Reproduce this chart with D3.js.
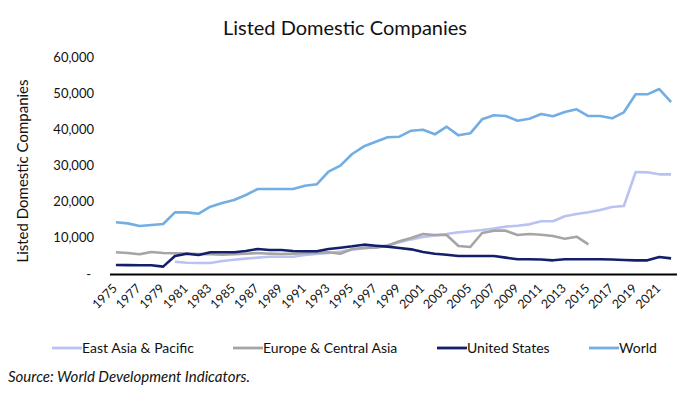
<!DOCTYPE html>
<html>
<head>
<meta charset="utf-8">
<script src="https://cdn.jsdelivr.net/npm/d3@7"></script>
<style>
  body { margin: 0; background: #fff; }
  svg { font-family: Lato, "Open Sans", sans-serif; }
</style>
</head>
<body>
<div id="chart"></div>
<script>
// Years on the x axis
const years = d3.range(1975, 2023);

// Series values (null = no data)
const eastAsia = [null, null, null, null, null, 3400, 3130, 3040, 3040, 3590,
  3960, 4240, 4520, 4790, 4790, 4790, 5250, 5530, 5810, 6180,
  6730, 7100, 7460, 7920, 8750, 9580, 10230, 10690, 11060, 11520,
  11800, 12160, 12600, 13090, 13360, 13730, 14570, 14570, 15950, 16590,
  17050, 17690, 18520, 18800, 28200, 28110, 27560, 27560];

const europe = [6000, 5810, 5440, 6080, 5810, 5720, 5620, 5530, 5440, 5340,
  5440, 5620, 5810, 5620, 5530, 5620, 5760, 5900, 6000, 5620,
  6910, 7190, 7280, 7830, 9030, 9950, 11060, 10780, 10780, 7740,
  7460, 11340, 11980, 11980, 10780, 11060, 10870, 10500, 9770, 10320,
  8200, null, null, null, null, null, null, null];

const unitedStates = [2490, 2450, 2420, 2400, 2030, 4980, 5620, 5250, 6000, 6000,
  6000, 6360, 6910, 6640, 6640, 6360, 6270, 6270, 6910, 7280,
  7650, 8110, 7830, 7560, 7190, 6820, 6080, 5620, 5340, 4980,
  4980, 4980, 4980, 4520, 4060, 4060, 4000, 3780, 4060, 4060,
  4060, 4060, 4000, 3880, 3780, 3780, 4700, 4330];

const world = [14300, 14000, 13270, 13550, 13820, 17050, 17050, 16680, 18610, 19630,
  20460, 21840, 23500, 23500, 23500, 23500, 24400, 24800, 28290, 29950,
  33180, 35300, 36580, 37790, 37970, 39620, 39900, 38620, 40730, 38340,
  38900, 42770, 43900, 43700, 42390, 42940, 44240, 43600, 44790, 45530,
  43680, 43680, 43040, 44700, 49680, 49680, 51150, 47550];

const seriesNames = ["East Asia & Pacific", "Europe & Central Asia", "United States", "World"];
const seriesColors = ["#b9c3f3", "#a5a5a5", "#131f6b", "#72aee3"];
const seriesValues = [eastAsia, europe, unitedStates, world];

const yTicks = [0, 10000, 20000, 30000, 40000, 50000, 60000];
const xTickYears = years.filter(y => (y - 1975) % 2 === 0 && y <= 2021);

const width = 690, height = 400;
const svg = d3.select("#chart").append("svg")
  .attr("width", width)
  .attr("height", height);

const x = d3.scaleBand()
  .domain(years)
  .range([110, 677]);

const y = d3.scaleLinear()
  .domain([0, 60000])
  .range([274, 57]);

const cx = d => x(d) + x.bandwidth() / 2;

// Title
svg.append("text")
  .attr("x", 345)
  .attr("y", 35)
  .attr("text-anchor", "middle")
  .style("font-size", "20px")
  .style("fill", "#111")
  .text("Listed Domestic Companies");

// Y axis labels (no line)
svg.append("g")
  .selectAll("text")
  .data(yTicks)
  .enter().append("text")
  .attr("x", d => d === 0 ? 91 : 94)
  .attr("y", d => y(d))
  .attr("dy", "0.35em")
  .attr("text-anchor", "end")
  .style("font-size", "13px")
  .style("fill", "#111")
  .text(d => d === 0 ? "-" : d3.format(",")(d));

// Y axis title
svg.append("text")
  .attr("transform", "translate(28,171) rotate(-90)")
  .attr("text-anchor", "middle")
  .style("font-size", "15px")
  .style("fill", "#111")
  .text("Listed Domestic Companies");

// Lines
const line = d3.line()
  .defined(d => d[1] !== null)
  .x(d => cx(d[0]))
  .y(d => y(d[1]));

svg.append("g")
  .selectAll("path")
  .data(seriesValues)
  .enter().append("path")
  .attr("fill", "none")
  .attr("stroke", (d, i) => seriesColors[i])
  .attr("stroke-width", 2.6)
  .attr("stroke-linejoin", "round")
  .attr("d", d => line(years.map((yr, i) => [yr, d[i]])));

// X axis line
svg.append("line")
  .attr("x1", 110)
  .attr("x2", 677)
  .attr("y1", y(0) + 0.5)
  .attr("y2", y(0) + 0.5)
  .attr("stroke", "#000")
  .attr("stroke-width", 2);

// X tick labels, rotated
svg.append("g")
  .selectAll("text")
  .data(xTickYears)
  .enter().append("text")
  .attr("transform", d => `translate(${cx(d) + 2},${289}) rotate(-45)`)
  .attr("text-anchor", "end")
  .style("font-size", "12.5px")
  .style("fill", "#111")
  .text(d => d);

// Legend
const legendX = [52, 233, 437, 589];
const legend = svg.append("g")
  .selectAll("g")
  .data(seriesNames)
  .enter().append("g")
  .attr("transform", (d, i) => `translate(${legendX[i]},348)`);

legend.append("line")
  .attr("x1", 0)
  .attr("x2", 30)
  .attr("stroke", (d, i) => seriesColors[i])
  .attr("stroke-width", 2.8);

legend.append("text")
  .attr("x", 30)
  .attr("dy", "0.35em")
  .style("font-size", "14px")
  .style("fill", "#111")
  .text(d => d);

// Source
svg.append("text")
  .attr("x", 8)
  .attr("y", 382)
  .style("font-size", "15px")
  .style("font-style", "italic")
  .style("fill", "#111")
  .text("Source: World Development Indicators.");
</script>
</body>
</html>
